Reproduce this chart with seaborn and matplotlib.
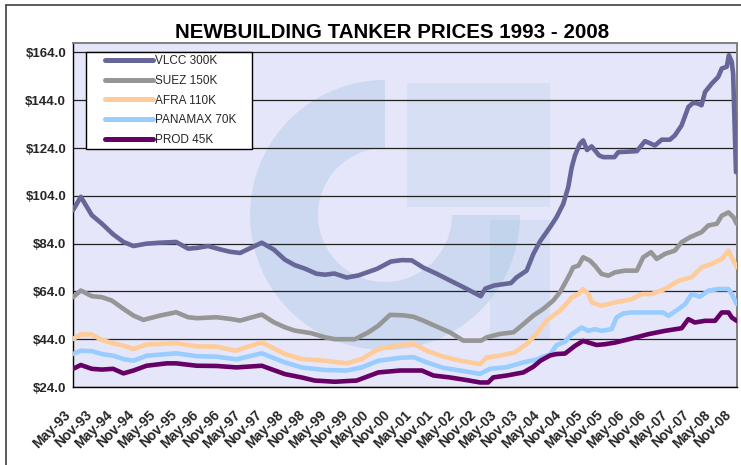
import matplotlib
matplotlib.use("Agg")
import numpy as np
import pandas as pd
import seaborn as sns
import matplotlib.pyplot as plt
from matplotlib.patches import Wedge, Rectangle
from matplotlib.lines import Line2D
from matplotlib.legend_handler import HandlerLine2D

# ---------------- data (month index 0 = May-93) ----------------
series_names = ["VLCC 300K", "SUEZ 150K", "AFRA 110K", "PANAMAX 70K", "PROD 45K"]
series_colors = ["#666699", "#969696", "#FFCC99", "#99CCFF", "#660066"]

vlcc_month = [0, 2.2, 5.3, 8.1, 11.3, 14.2, 17, 20.7, 24.5, 29, 32.4, 34.8, 38, 41.4, 44.2, 47,
              53.1, 56.5, 59.6, 62.4, 65.3, 68.5, 70.9, 73.5, 77, 80.3, 85.6, 89.4, 92.5, 95.3,
              98.5, 102.3, 106, 109.8, 114.7, 116, 118.5, 123.2, 124.8, 127.6, 129.5, 131.4,
              134.2, 136, 137.9, 139.3, 140.3, 141.2, 142.6, 143.5, 144.6, 145.9, 148, 149.2,
              152.3, 153.4, 158.6, 160.9, 163.7, 165.6, 167.9, 169.3, 171.2, 173.1, 174.5,
              175.9, 176.8, 177.8, 179.7, 181.5, 182.5, 183.9, 184.5, 185.3, 185.7, 186.5]
vlcc_price = [98, 103.6, 95.9, 92.4, 87.9, 84.7, 83, 84, 84.4, 84.7, 81.9, 82.2, 83, 81.6, 80.6, 80.1,
              84.4, 81.5, 77.3, 75, 73.5, 71.4, 71, 71.5, 69.8, 70.7, 73.5, 76.5, 77.1, 77,
              74, 71.4, 68.6, 65.8, 62, 65.2, 66.5, 67.5, 69.9, 72.7, 79.7, 85,
              90.9, 95, 100.6, 107.6, 116, 120.9, 125.8, 127.2, 123.2, 124.7, 120.9, 120.2,
              120.2, 122.3, 122.7, 126.9, 125.1, 127.5, 127.5, 129.3, 133.5, 141.2, 143,
              142.6, 141.9, 147.5, 151, 153.8, 157.3, 158, 162.9, 160.1, 155, 113.9]

suez_month = [0, 2.2, 5.3, 8.1, 10.9, 14.2, 17, 19.8, 24.5, 29, 32.4, 34.8, 40.4, 44.2, 47,
              53.1, 56.5, 59.6, 62.4, 67.1, 70.9, 73.7, 79.3, 83.1, 85.9, 89.2, 92.9, 95.8,
              98.5, 102.3, 106, 109.8, 114.8, 116.4, 120.1, 123.9, 126.2, 129.5, 132.3, 135.1,
              137, 138.6, 139.8, 140.7, 142.2, 143.5, 145.4, 146.8, 148.7, 150.6, 152.5, 155.3,
              158.6, 160.4, 162.6, 164.2, 166.5, 169.3, 171.2, 173.6, 176.8, 178.7, 181.1,
              182.5, 184.4, 185.8, 186.7]
suez_price = [61.6, 64.4, 62, 61.6, 60.2, 56.7, 53.9, 52.1, 53.9, 55.3, 53.2, 52.8, 53.2, 52.5, 51.8,
              54.3, 51.1, 49, 47.6, 46.5, 44.8, 44, 44, 46.9, 49.7, 54.2, 54, 53.4,
              51.8, 49.3, 46.9, 43.4, 43.4, 44.8, 46.2, 46.9, 49.7, 53.9, 56.7, 60.2,
              63.7, 68, 71.3, 74.1, 74.8, 78.3, 76.9, 74.8, 71.3, 70.6, 72, 72.7,
              72.7, 78.3, 80.4, 77.6, 79.7, 81.1, 84.6, 86.7, 88.8, 91.6, 92.3,
              95.7, 97.1, 95, 92.3]

afra_month = [0, 2.2, 5.3, 8.1, 11.3, 14.2, 17, 20.7, 29, 34.8, 40.4, 45.6, 53.1, 59.6, 64.3,
              70.9, 77, 81.2, 85.9, 92, 95.8, 99.5, 104.2, 108.9, 114.5, 116.4, 120.1, 124.3,
              127.6, 130.4, 133.2, 137, 139.2, 140.3, 142.2, 143.5, 145, 145.9, 148.7, 152.5,
              157.2, 160, 162.8, 166.5, 170.3, 174, 176.8, 179.7, 182.5, 184.4, 185.3, 186.7]
afra_price = [44.1, 46, 46, 43.7, 42.3, 41.3, 39.9, 41.8, 42.3, 41, 40.9, 39.2, 42.7, 37.8, 35.7,
              35, 33.9, 35.7, 39.9, 41.5, 42, 39.2, 36.7, 35, 33.6, 36.4, 37.1, 38.5,
              42, 46.2, 51.8, 56, 59.5, 61.5, 62.9, 65, 62.9, 59.4, 58, 59.4,
              60.8, 62.9, 62.9, 65, 68.5, 69.9, 74.1, 75.5, 77.6, 81.1, 78.3, 74.1]

panamax_month = [0, 2.2, 5.3, 8.1, 11.3, 14.2, 17, 20.7, 29, 34.8, 40.4, 46, 53.1, 59.6, 64.3,
                 70.9, 77, 81.2, 85.9, 92, 95.8, 99.5, 104.2, 108.9, 114.5, 117.3, 122, 126.7,
                 130.4, 132.5, 134.2, 136, 138.4, 140.3, 143.1, 145, 146.8, 148.7, 151.5, 152.9,
                 154.8, 157.2, 166, 167.5, 170.3, 172.2, 174, 176.4, 178.7, 181.5, 184.4, 185.3,
                 186.7]
panamax_price = [37.8, 39.2, 39, 37.8, 37.1, 35.7, 35, 37.1, 38.1, 36.9, 36.7, 35.6, 38.1, 34.3, 32.2,
                 31.1, 30.9, 32.2, 35, 36.2, 36.5, 34.3, 32, 30.9, 29.5, 31.6, 32.3, 34.3,
                 35.5, 36.8, 37.6, 41.5, 43, 46.1, 48.9, 47.5, 48.2, 47.5, 48.2, 53.1,
                 54.8, 55.2, 55.2, 53.8, 56.6, 58.7, 62.9, 61.8, 64.3, 65, 65, 62.9,
                 58.7]

prod_month = [0, 2.2, 5.3, 8.1, 11.3, 14.2, 17, 20.7, 26.4, 29, 34.8, 40.4, 46, 53.1, 59.6, 64.3,
              68, 73.7, 79.8, 85.9, 92, 98.1, 101.4, 106, 110.7, 114.5, 116.8, 118.2, 122,
              126.7, 129.5, 131.5, 134.2, 136, 138.4, 141.2, 143.5, 145, 147.3, 149.6, 152.5,
              157.2, 161.8, 166.5, 171.2, 173.1, 174.9, 177.8, 180.6, 182.5, 184.4, 185.3, 186.7]
prod_price = [31.6, 33.2, 31.6, 31.3, 31.6, 29.7, 30.9, 32.9, 33.9, 33.9, 32.9, 32.8, 32.2, 32.9, 29.4, 28,
              26.7, 26.2, 26.7, 30.1, 30.9, 30.9, 28.8, 28, 26.9, 25.9, 25.9, 28, 28.8,
              30.1, 32.5, 35, 37.2, 37.8, 38, 41.2, 43.3, 42.6, 41.6, 41.9, 42.6,
              44.3, 46.1, 47.5, 48.6, 52.4, 51, 51.7, 51.7, 55.2, 55.2, 53.1, 51.7]

tick_labels = ["May-93", "Nov-93", "May-94", "Nov-94", "May-95", "Nov-95", "May-96", "Nov-96",
               "May-97", "Nov-97", "May-98", "Nov-98", "May-99", "Nov-99", "May-00", "Nov-00",
               "May-01", "Nov-01", "May-02", "Nov-02", "May-03", "Nov-03", "May-04", "Nov-04",
               "May-05", "Nov-05", "May-06", "Nov-06", "May-07", "Nov-07", "May-08", "Nov-08"]
y_ticks = [24, 44, 64, 84, 104, 124, 144, 164]
title_text = "NEWBUILDING TANKER PRICES 1993 - 2008"

# ---------------- long table ----------------
all_months = [vlcc_month, suez_month, afra_month, panamax_month, prod_month]
all_prices = [vlcc_price, suez_price, afra_price, panamax_price, prod_price]
frames = []
for name, m, p in zip(series_names, all_months, all_prices):
    frames.append(pd.DataFrame({"month": m, "price": p, "series": name}))
df = pd.concat(frames, ignore_index=True)

# ---------------- style ----------------
sns.set_style("white")
plt.rcParams["font.family"] = ["Liberation Sans", "DejaVu Sans"]

W, H = 741, 465
fig = plt.figure(figsize=(W / 100, H / 100), dpi=100, facecolor="white")
ax_l, ax_r, ax_t, ax_b = 73, 736.7, 42.7, 387
ax = fig.add_axes([ax_l / W, 1 - ax_b / H, (ax_r - ax_l) / W, (ax_b - ax_t) / H])
ax.set_facecolor("#E6E6FA")

# faint watermark logo (decorative)
px = fig.dpi_scale_trans
def P(x, y):
    return (x / 100, (H - y) / 100)
ring = Wedge(P(385, 215), 1.35, 90, 360, width=0.68, transform=px,
             facecolor="#9fc3e0", alpha=0.36, edgecolor="none", zorder=0.2)
ax.add_patch(ring)
sq = Rectangle(P(407, 207), 1.43, 1.24, transform=px, facecolor="#b5d0ea",
               alpha=0.30, edgecolor="none", zorder=0.2)
ax.add_patch(sq)
arm = Rectangle(P(490, 340), 0.60, 1.2, transform=px, facecolor="#a8c8e4",
                alpha=0.26, edgecolor="none", zorder=0.2)
ax.add_patch(arm)
for p in (ring, sq, arm):
    p.set_clip_path(ax.patch)

sns.lineplot(data=df, x="month", y="price", hue="series", hue_order=series_names,
             palette=series_colors, estimator=None, sort=False, linewidth=3.3,
             solid_joinstyle="round", solid_capstyle="round", legend=False, ax=ax, zorder=3)

ax.set_xlim(0, 186.7)
ax.set_ylim(24, 168.1)
ax.set_xlabel("")
ax.set_ylabel("")

ax.set_yticks(y_ticks)
ax.set_yticklabels([f"${v:.1f}" for v in y_ticks], fontsize=9.5, fontweight="bold")
ax.set_xticks([6 * i for i in range(len(tick_labels))])
ax.set_xticklabels(tick_labels, fontsize=10, fontweight="bold", rotation=45,
                   ha="right", va="top")
ax.tick_params(axis="both", direction="out", length=3, width=1, color="black", pad=2)
ax.tick_params(axis="x", pad=12)

ax.yaxis.grid(True, color="#222222", linewidth=0.9)
ax.xaxis.grid(False)
ax.set_axisbelow(True)

for s in ("left", "bottom"):
    ax.spines[s].set_color("black")
    ax.spines[s].set_linewidth(1.0)
for s in ("top", "right"):
    ax.spines[s].set_color("#808080")
    ax.spines[s].set_linewidth(1.4)

# legend
handles = [Line2D([], [], color=c, linewidth=3.6, solid_capstyle="round") for c in series_colors]
lx0 = (85.7 - ax_l) / (ax_r - ax_l)
lw_ = 166.6 / (ax_r - ax_l)
ly0 = (ax_b - 150) / (ax_b - ax_t)
lh = (150 - 51.7) / (ax_b - ax_t)
leg = ax.legend(handles, series_names, loc="upper left", bbox_to_anchor=(lx0, ly0, lw_, lh),
                mode="expand", borderaxespad=0, borderpad=0.3, fontsize=8.5,
                handlelength=5.4, handletextpad=0.15, labelspacing=0.65,
                frameon=True, fancybox=False, framealpha=1, edgecolor="black",
                facecolor="white", handler_map={Line2D: HandlerLine2D(xpad=1.34)})
leg.get_frame().set_linewidth(1.0)
leg.set_zorder(5)

fig.text(392.5 / W, 1 - 33 / H, title_text, ha="center", va="center",
         fontsize=14.8, fontweight="bold", color="black")

# outer border (top and left edges)
fig.add_artist(Line2D([5.7 / W, 1.0], [1 - 4.7 / H, 1 - 4.7 / H], color="#404040",
                      linewidth=1.2, transform=fig.transFigure))
fig.add_artist(Line2D([5.7 / W, 5.7 / W], [0, 1 - 4.7 / H], color="#404040",
                      linewidth=1.2, transform=fig.transFigure))

fig.savefig("out.png", dpi=100, facecolor="white")
